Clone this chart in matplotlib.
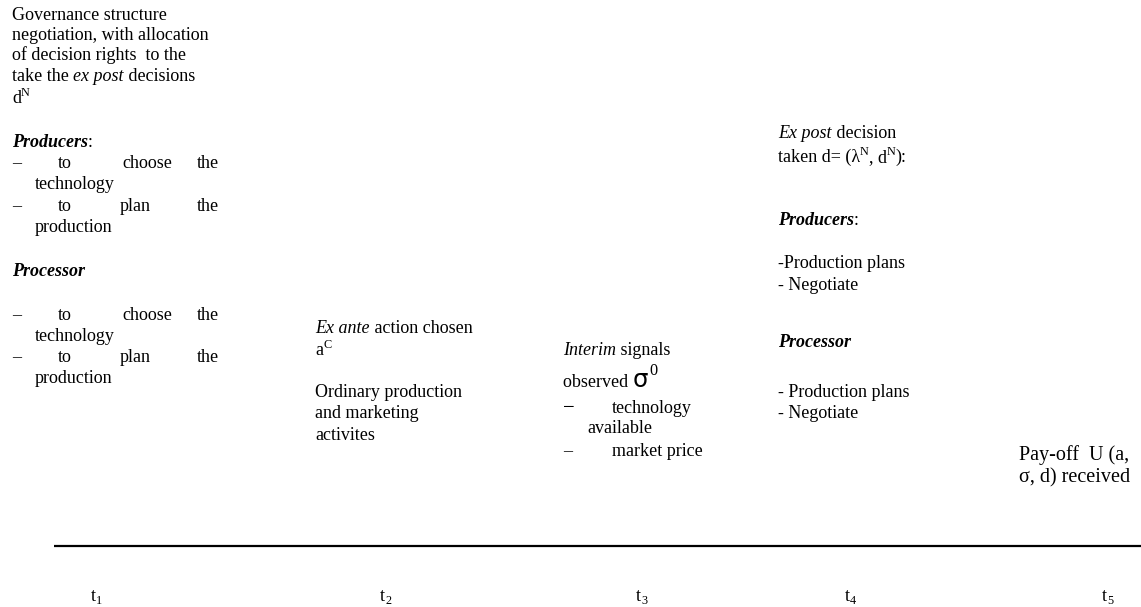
import matplotlib
matplotlib.use("Agg")
import matplotlib.pyplot as plt

plt.rcParams['font.family'] = ['Liberation Serif', 'DejaVu Serif']

W, H = 1141, 607
FS = 13.0      # body font size (pt, at 100 dpi)
FS_PAY = 14.5

# ---------------- data ----------------
time_labels = ["1", "2", "3", "4", "5"]
time_x = [91, 380, 636, 845, 1102]

R, I, BI = "r", "i", "bi"

# block 1 : governance negotiation
block1_lines = [
    [("Governance structure", R)],
    [("negotiation, with allocation", R)],
    [("of decision rights  to the", R)],
    [("take the ", R), ("ex post", I), (" decisions", R)],
    [("d", R), ("^N", R)],
    [("Producers", BI), (":", R)],
    "choose",
    [("technology", R)],
    "plan",
    [("production", R)],
    [("Processor", BI)],
    "choose",
    [("technology", R)],
    "plan",
    [("production", R)],
]
block1_y = [20, 40, 60, 81, 103, 147, 168, 189, 211, 232, 276, 320, 341, 362, 383]
bullet_words = {"choose": ["\u2013", "to", "choose", "the"],
                "plan": ["\u2013", "to", "plan", "the"]}
bullet_x = {"choose": [12, 58, 122, 197], "plan": [12, 58, 120, 197]}
indent_x = [12, 12, 12, 12, 12, 12, None, 35, None, 35, 12, None, 35, None, 35]

block2_lines = [
    [("Ex ante", I), (" action chosen", R)],
    [("a", R), ("^C", R)],
    [("Ordinary production", R)],
    [("and marketing", R)],
    [("activites", R)],
]
block2_y = [333, 355, 397, 418, 440]

block3_lines = [
    [("Interim", I), (" signals", R)],
    [("observed ", R), ("SIGMA", R), ("^^0", R)],
    [("technology", R)],
    [("available", R)],
    [("market price", R)],
]
block3_y = [355, 387, 413, 433, 456]
block3_x = [563, 563, 612, 587, 612]
block3_dash = [None, None, "\u2212", None, "\u2013"]

block4_lines = [
    [("Ex post", I), (" decision", R)],
    [("taken d= (\u03bb", R), ("^N", R), (", d", R), ("^N", R), ("):", R)],
    [("Producers", BI), (":", R)],
    [("-Production plans", R)],
    [("- Negotiate", R)],
    [("Processor", BI)],
    [("- Production plans", R)],
    [("- Negotiate", R)],
]
block4_y = [138, 162, 225, 268, 290, 347, 397, 418]
block4_x = 778

block5_lines = ["Pay-off  U (a,", "\u03c3, d) received"]
block5_y = [460, 482]
block5_x = 1019

timeline_y = 546
timeline_x0, timeline_x1 = 54, 1141

# ---------------- drawing ----------------
fig = plt.figure(figsize=(W / 100, H / 100), dpi=100)
ax = fig.add_axes([0, 0, 1, 1])
ax.set_xlim(0, W)
ax.set_ylim(H, 0)
ax.axis("off")
fig.canvas.draw()
renderer = fig.canvas.get_renderer()


def style(s, fs):
    d = dict(fontsize=fs, color="black")
    if s == I:
        d["style"] = "italic"
    elif s == BI:
        d["style"] = "italic"
        d["weight"] = "bold"
    return d


def width(text, kw):
    t1 = ax.text(0, 0, "|" + text + "|", **kw)
    t2 = ax.text(0, 0, "||", **kw)
    w = t1.get_window_extent(renderer).width - t2.get_window_extent(renderer).width
    t1.remove()
    t2.remove()
    return w


def draw_runs(x, y, runs, fs=FS):
    for text, s in runs:
        kw = style(s, fs)
        if text.startswith("^^"):
            kw["fontsize"] = fs * 0.9
            txt = text[2:]
            ax.text(x + 1, y - 12, txt, va="baseline", ha="left", **kw)
            x += width(txt, kw) + 1
        elif text.startswith("^"):
            kw["fontsize"] = fs * 0.68
            txt = text[1:]
            ax.text(x, y - fs * 0.55, txt, va="baseline", ha="left", **kw)
            x += width(txt, kw)
        elif text == "SIGMA":
            kw["fontsize"] = fs * 1.35
            kw["family"] = ["DejaVu Sans"]
            ax.text(x, y, "\u03c3", va="baseline", ha="left", **kw)
            x += width("\u03c3", kw)
        else:
            ax.text(x, y, text, va="baseline", ha="left", **kw)
            x += width(text, kw)
    return x


# block 1
for line, y, x in zip(block1_lines, block1_y, indent_x):
    if isinstance(line, str):
        for wd, wx in zip(bullet_words[line], bullet_x[line]):
            ax.text(wx, y, wd, va="baseline", ha="left", **style(R, FS))
    else:
        draw_runs(x, y, line)

# block 2
for line, y in zip(block2_lines, block2_y):
    draw_runs(315, y, line)

# block 3
for line, y, x, d in zip(block3_lines, block3_y, block3_x, block3_dash):
    if d is not None:
        kw = style(R, FS * (1.15 if d == "\u2212" else 1.0))
        ax.text(563, y, d, va="baseline", ha="left", **kw)
    draw_runs(x, y, line)

# block 4
for line, y in zip(block4_lines, block4_y):
    draw_runs(block4_x, y, line)

# block 5
for txt, y in zip(block5_lines, block5_y):
    ax.text(block5_x, y, txt, va="baseline", ha="left", **style(R, FS_PAY))

# timeline
ax.plot([timeline_x0, timeline_x1], [timeline_y, timeline_y], color="black", lw=1.6,
        solid_capstyle="butt")
for lab, x in zip(time_labels, time_x):
    xe = draw_runs(x, 601, [("t", R)])
    kw = style(R, FS * 0.68)
    ax.text(xe, 601 + 3, lab, va="baseline", ha="left", **kw)

fig.savefig("out.png", dpi=100)
